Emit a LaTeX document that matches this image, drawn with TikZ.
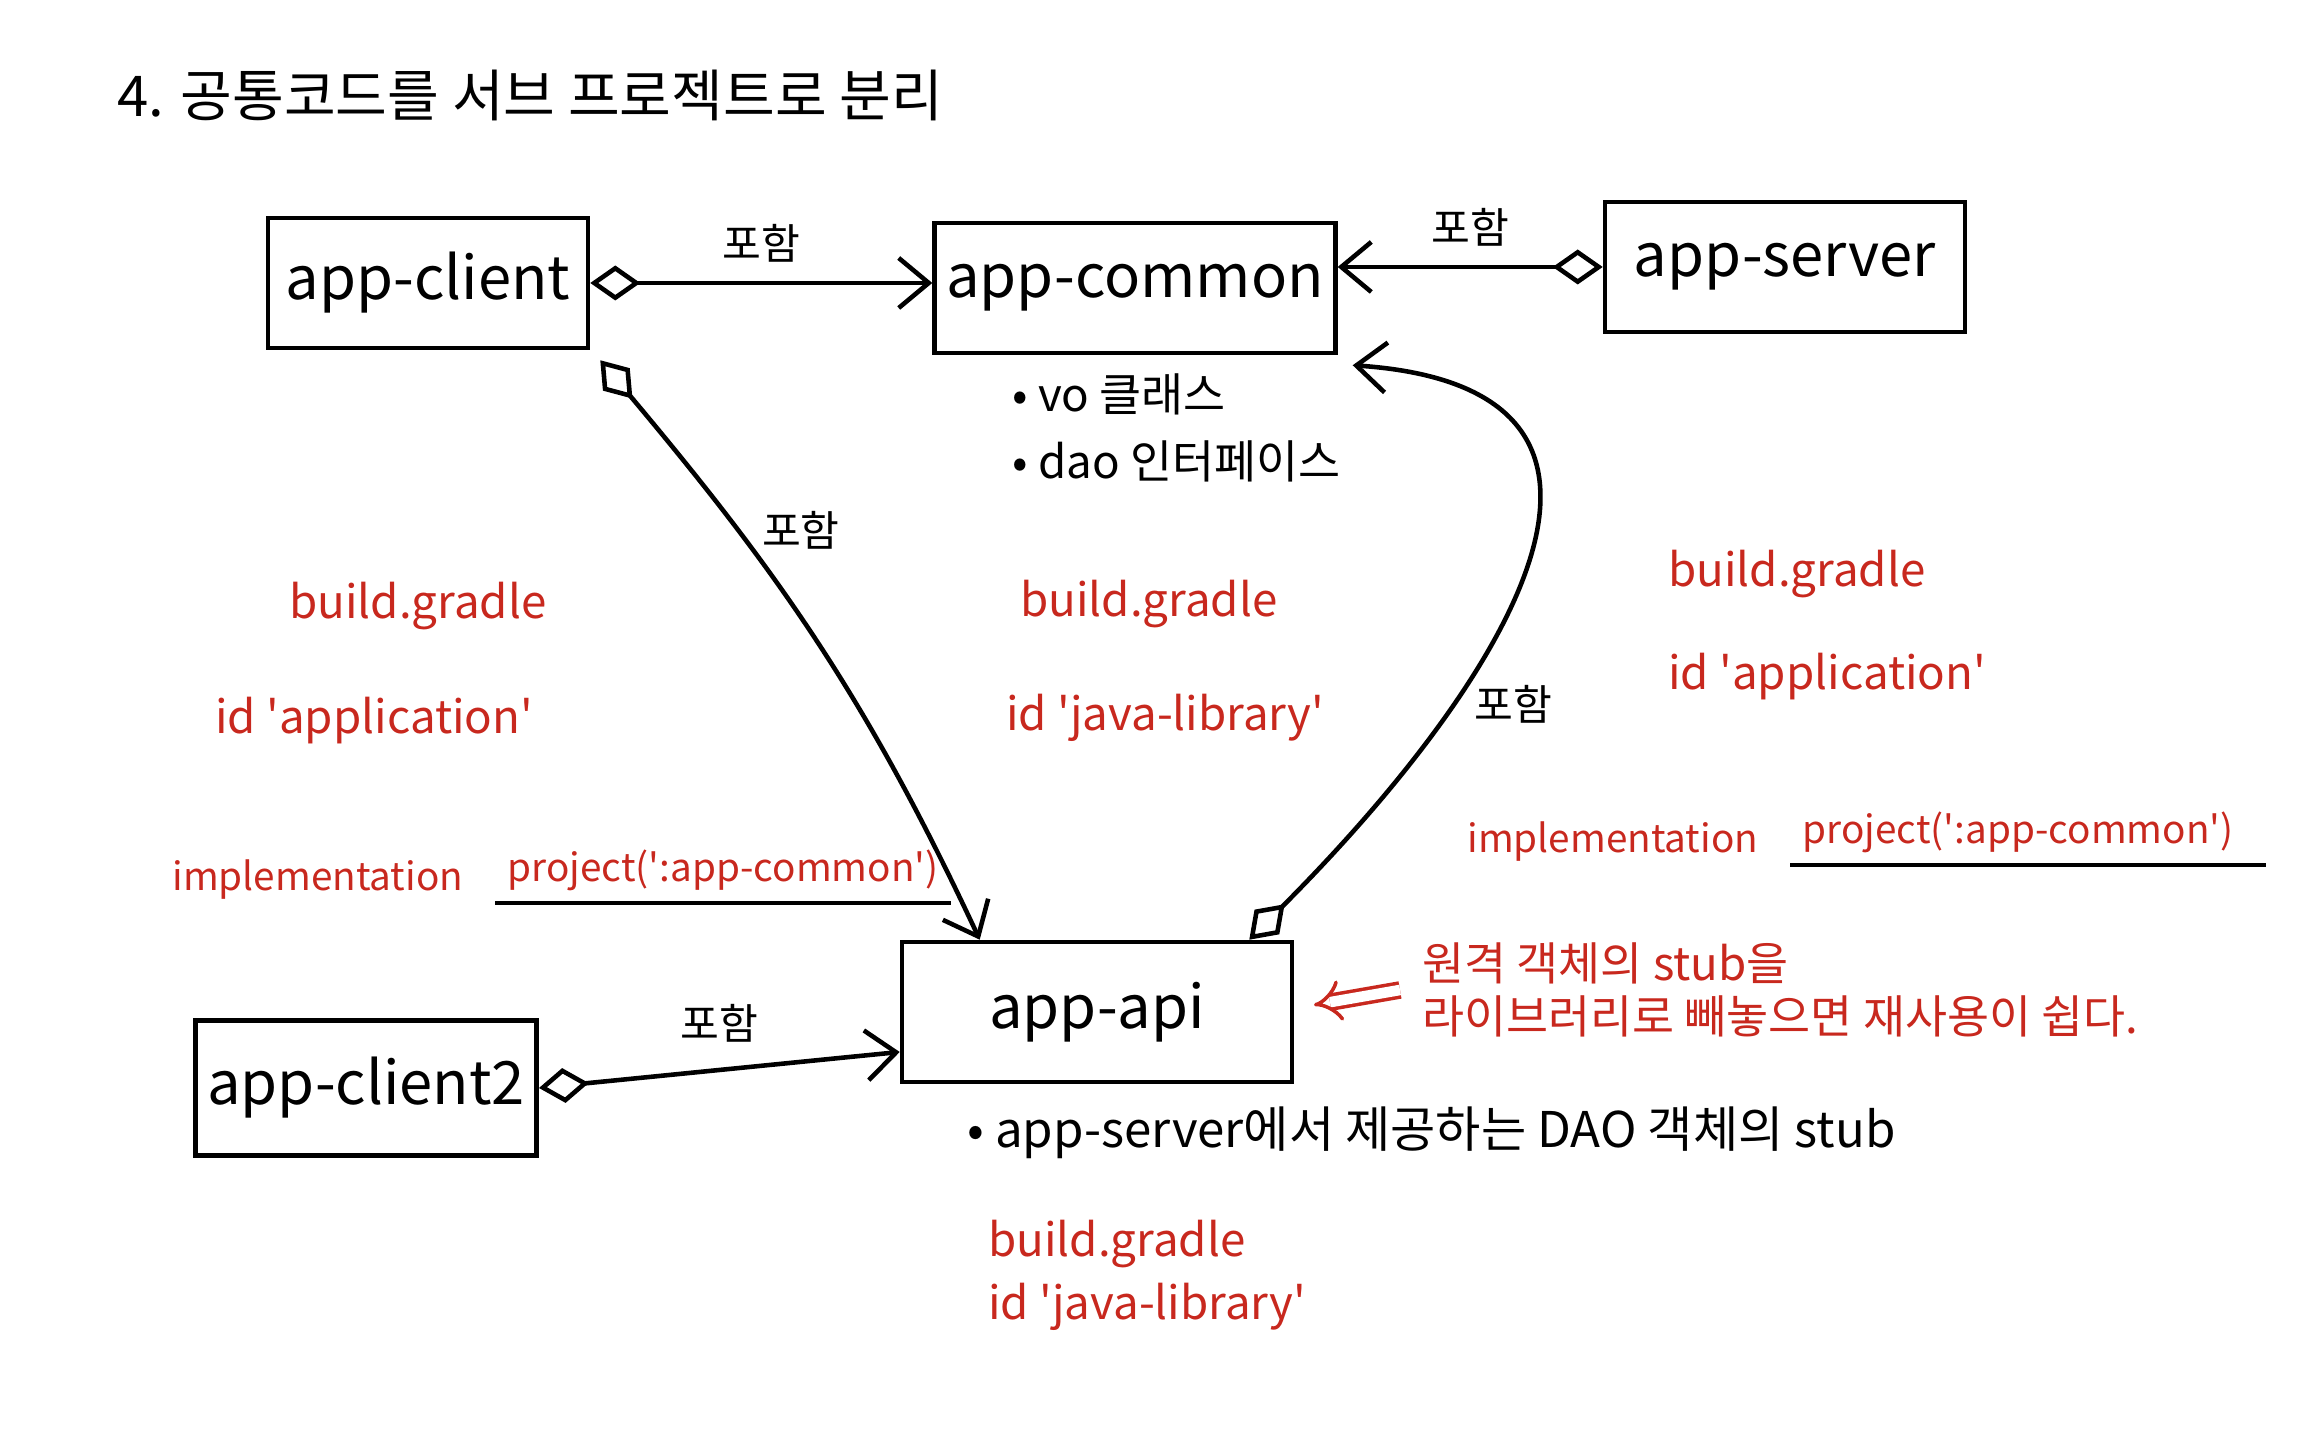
\documentclass[tikz,border=0pt]{standalone}
\usepackage{fontspec}
\setmainfont{Noto Sans CJK KR}
\usepackage{xcolor}
\usetikzlibrary{arrows.meta}
\definecolor{penred}{RGB}{200,40,30}
\newcommand{\q}{\textquotesingle}
\tikzset{
	module/.style={draw,line width=1.3pt,minimum width=#1,minimum height=1.3cm,
			font=\fontsize{17}{20}\selectfont},
	incl/.style={{Diamond[open,length=5mm,width=3.5mm]}-{Straight Barb[length=3mm,width=5mm]},
			line width=1.3pt},
	gradle/.style={text=penred,anchor=west,font=\fontsize{13}{15}\selectfont},
	dep/.style={gradle,font=\fontsize{11}{13}\selectfont},
	memo/.style={anchor=west,font=\fontsize{13}{15}\selectfont},
	tag/.style={font=\fontsize{12}{14}\selectfont}
}

\begin{document}
\begin{tikzpicture}
    \useasboundingbox (0,0) rectangle (23.08,14.38);
    \node[font=\fontsize{16}{19}\selectfont] (title) at (5.3, 13.43) {4. 공통코드를 서브 프로젝트로 분리};
    % modules
    \node[module=3.2cm] (client) at (4.28, 11.55) {app-client};
    \node[module=3.9cm] (common) at (11.35, 11.5) {app-common};
    \node[module=3.6cm] (server) at (17.85, 11.71) {app-server};
    \node[module=3.9cm,minimum height=1.4cm] (api) at (10.97, 4.26) {app-api};
    \node[module=3.1cm,minimum height=1.35cm] (client2) at (3.66, 3.5) {app-client2};
    % notes
    \node[memo] (vo) at (10.0, 10.44) {• vo 클래스};
    \node[memo] (dao) at (10.0, 9.77) {• dao 인터페이스};
    \node[memo,font=\fontsize{14}{17}\selectfont] (stub) at (9.55, 3.05) {• app-server에서 제공하는 DAO 객체의 stub};
    \node[gradle,align=left] (hint) at (14.1, 4.48) {원격 객체의 stub을\\라이브러리로 빼놓으면 재사용이 쉽다.};
    \coordinate (hintend) at (13.14, 4.33);
    % build.gradle
    \node[gradle] (bg1) at (2.77, 8.32) {build.gradle};
    \node[gradle] (id1) at (2.03, 7.17) {id \q application\q};
    \node[dep] (impl1) at (1.6, 5.58) {implementation};
    \node[dep] (proj1) at ([xshift=2mm,yshift=1mm]impl1.east) {project(\q:app-common\q)};
    \node[gradle] (bg2) at (10.08, 8.34) {build.gradle};
    \node[gradle] (id2) at (9.94, 7.2) {id \q java-library\q};
    \node[gradle] (bg3) at (16.56, 8.64) {build.gradle};
    \node[gradle] (id3) at (16.56, 7.61) {id \q application\q};
    \node[dep] (impl2) at (14.55, 5.96) {implementation};
    \node[dep] (proj2) at ([xshift=2mm,yshift=1mm]impl2.east) {project(\q:app-common\q)};
    \node[gradle] (bg4) at (9.76, 1.94) {build.gradle};
    \node[gradle] (id4) at (9.76, 1.31) {id \q java-library\q};
    \draw[line width=1.3pt] (proj1.south west) -- (proj1.south east);
    \draw[line width=1.3pt] (proj2.south west) -- ([xshift=2mm]proj2.south east);
    % connectors
    \draw[incl] (client.east) -- node[tag,above=2pt]{포함} (client.east -| common.west);
    \draw[incl] (server.west) -- node[tag,above=2pt]{포함} (server.west -| common.east);
    \draw[incl] (client2.east) -- node[tag,above=4pt]{포함} ([yshift=-4mm]api.west);
    \draw[incl] ([xshift=1mm,yshift=-1mm]client.south east) to[out=-50,in=115]
        node[tag,pos=0.3,right=3pt]{포함} ([xshift=8mm]api.north west);
    \draw[incl] ([xshift=-4.5mm]api.north east) .. controls (15.1, 7.6) and (16.9, 10.5) ..
        node[tag,pos=0.3,right=3pt]{포함} ([xshift=1.5mm,yshift=-1mm]common.south east);
    \draw[penred,line width=1pt,double distance=3pt,-{Implies}] ([xshift=-1mm]hint.west) -- (hintend);
\end{tikzpicture}
\end{document}
